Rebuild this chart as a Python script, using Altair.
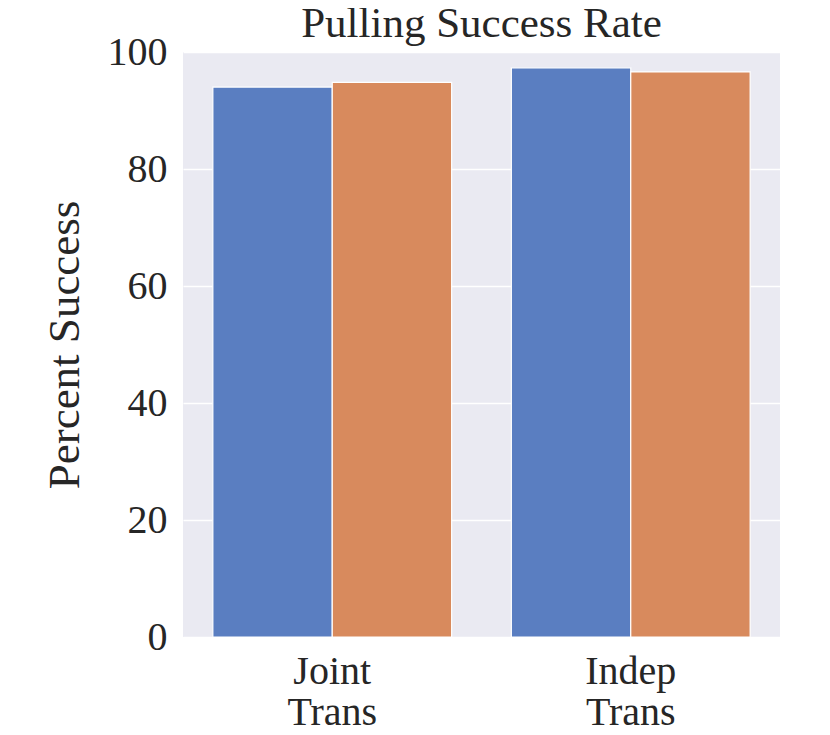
import altair as alt
import pandas as pd

categories = ["Joint Trans", "Joint Trans", "Indep Trans", "Indep Trans"]
series = ["A", "B", "A", "B"]
values = [94.0, 94.8, 97.3, 96.6]

df = pd.DataFrame({"cat": categories, "series": series, "value": values})

FONT = "Liberation Serif"

chart = alt.Chart(df).mark_bar(stroke="white", strokeWidth=1.2).encode(
    x=alt.X("cat:N", sort=["Joint Trans", "Indep Trans"],
            scale=alt.Scale(paddingInner=0.2, paddingOuter=0.1),
            axis=alt.Axis(title=None, labelAngle=0, ticks=False, domain=False, grid=False,
                          labelExpr="split(datum.label, ' ')", labelLineHeight=41,
                          labelFontSize=40, labelPadding=14, labelFont=FONT, labelColor="#262626")),
    xOffset=alt.XOffset("series:N"),
    y=alt.Y("value:Q", scale=alt.Scale(domain=[0, 100]),
            axis=alt.Axis(title="Percent Success", values=[0, 20, 40, 60, 80, 100],
                          ticks=False, domain=False, gridColor="white", gridWidth=1.5,
                          labelFontSize=40, labelFont=FONT, labelPadding=16, labelColor="#262626",
                          titleFontSize=45, titleFont=FONT, titleFontWeight="normal",
                          titleColor="#262626", titlePadding=20)),
    color=alt.Color("series:N", scale=alt.Scale(domain=["A", "B"], range=["#5a7ec1", "#d88a5d"]),
                    legend=None),
).properties(
    width=597, height=585,
    background="white",
    title=alt.TitleParams("Pulling Success Rate", font=FONT, fontSize=43, fontWeight="normal",
                          color="#262626", offset=-14),
    autosize=alt.AutoSizeParams(type="none"),
    padding={"left": 175, "top": 44, "right": 40, "bottom": 100},
).configure_view(fill="#eaeaf2", strokeWidth=0)

chart.save("out.html", embed_options={"renderer": "svg", "actions": False})
